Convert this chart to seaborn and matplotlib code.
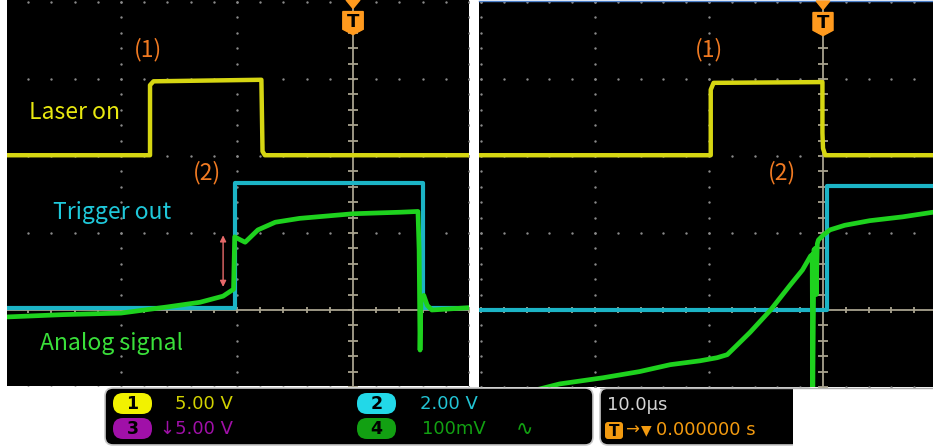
import matplotlib
matplotlib.use("Agg")
import numpy as np
import matplotlib.pyplot as plt
from matplotlib.patches import FancyBboxPatch, Polygon, Rectangle
import seaborn as sns

# --- style ---
sns.set_theme(style="white")
plt.rcParams['font.family'] = ['DejaVu Sans']

# --- data (in scope divisions, trigger at t=0, centre line at v=0) ---
# left capture
laser_t_left = [-2.98, -1.75, -1.75, -1.72, -0.79, -0.78, -0.76, 1.0]
laser_v_left = [2.01, 2.01, 2.92, 2.97, 2.99, 2.06, 2.01, 2.01]
trig_t_left = [-2.98, -1.02, -1.02, 0.60, 0.60, 1.0]
trig_v_left = [0.03, 0.03, 1.65, 1.65, 0.03, 0.03]
analog_t_left = [-2.98, -2.5, -2.0, -1.6, -1.32, -1.12, -1.03, -1.02, -0.97, -0.93,
                 -0.82, -0.67, -0.46, 0.0, 0.41, 0.56, 0.57, 0.578, 0.586, 0.61,
                 0.64, 0.68, 1.0]
analog_v_left = [-0.09, -0.06, -0.04, 0.04, 0.10, 0.18, 0.27, 0.95, 0.91, 0.88,
                 1.04, 1.14, 1.19, 1.25, 1.27, 1.28, 0.78, -0.52, 0.13, 0.19,
                 0.06, 0.0, 0.03]

# right capture
laser_t_right = [-3.02, -0.985, -0.985, -0.96, -0.005, -0.005, 0.0, 0.02, 0.965]
laser_v_right = [2.01, 2.01, 2.86, 2.95, 2.96, 2.30, 2.10, 2.01, 2.01]
trig_t_right = [-3.02, 0.035, 0.035, 0.965]
trig_v_right = [0.0, 0.0, 1.61, 1.61]
analog_t_right = [-2.55, -2.31, -1.93, -1.61, -1.34, -1.08, -0.93, -0.84, -0.75, -0.64,
                  -0.46, -0.29, -0.18, -0.11, -0.095, -0.09, -0.08, -0.07, -0.06, -0.05,
                  -0.04, 0.0, 0.06, 0.19, 0.41, 0.70, 0.965]
analog_v_right = [-1.05, -0.96, -0.88, -0.80, -0.71, -0.66, -0.62, -0.58, -0.45, -0.29,
                  0.0, 0.32, 0.52, 0.70, 0.72, -1.1, 0.78, 0.80, 0.2, 0.86,
                  0.91, 0.97, 1.04, 1.10, 1.16, 1.21, 1.27]

# status bar texts
ch_numbers = ['1', '3', '2', '4']
ch_scales = ['5.00 V', '\u21935.00 V', '2.00 V', '100mV']
timebase = '10.0\u00b5s'
trig_delay = '0.000000 s'

# --- colours ---
YEL, YEL_TXT = '#d6d612', '#e8e810'
CYA, CYA_TXT = '#1cb4c6', '#1fc8da'
GRN, GRN_TXT = '#1ed21e', '#3ae03a'
ORG = '#f07a22'
GRID = '#8a8a8a'
XHAIR = '#a8a28e'

W, H = 933, 446
fig = plt.figure(figsize=(W / 100, H / 100), dpi=100)
fig.patch.set_facecolor('white')


def px_axes(x0, y0, x1, y1):
    return fig.add_axes([x0 / W, 1 - y1 / H, (x1 - x0) / W, (y1 - y0) / H])


def draw_panel(ax, xlim, ylim, laser, trig, analog):
    ax.set_facecolor('black')
    ax.set_xlim(*xlim)
    ax.set_ylim(*ylim)
    ax.set_xticks([])
    ax.set_yticks([])
    for s in ax.spines.values():
        s.set_visible(False)

    # dotted graticule
    for gx in range(-3, 2):
        if gx == 0:
            continue
        ys = np.arange(-1, 4.01, 0.2)
        ax.scatter(np.full_like(ys, gx), ys, s=3, color=GRID, lw=0, zorder=1)
    for gy in range(-1, 5):
        if gy == 0:
            continue
        xs = np.arange(-3, 1.01, 0.2)
        ax.scatter(xs, np.full_like(xs, gy), s=3, color=GRID, lw=0, zorder=1)

    # centre crosshair with minor ticks
    ax.axvline(0, color=XHAIR, lw=1.3, zorder=1)
    ax.axhline(0, color=XHAIR, lw=1.3, zorder=1)
    tx = np.arange(-3, 1.01, 0.2)
    ax.scatter(tx, np.zeros_like(tx), marker='|', s=25, color=XHAIR, lw=1.3, zorder=1)
    ty = np.arange(-1, 4.01, 0.2)
    ax.scatter(np.zeros_like(ty), ty, marker='_', s=45, color=XHAIR, lw=1.3, zorder=1)

    # traces
    sns.lineplot(x=laser[0], y=laser[1], sort=False, estimator=None, ax=ax,
                 color=YEL, lw=3.2, zorder=3)
    sns.lineplot(x=trig[0], y=trig[1], sort=False, estimator=None, ax=ax,
                 color=CYA, lw=3.0, zorder=3)
    sns.lineplot(x=analog[0], y=analog[1], sort=False, estimator=None, ax=ax,
                 color=GRN, lw=3.4, zorder=4)

    # trigger marker at top
    top = ylim[1]
    tri = Polygon([(-0.06, top), (0.06, top), (0, top - 0.11)], closed=True,
                  color='#ff9a1e', zorder=6, clip_on=False)
    ax.add_patch(tri)
    badge = Polygon([(-0.088, top - 0.15), (0.088, top - 0.15), (0.088, top - 0.38),
                     (0, top - 0.45), (-0.088, top - 0.38)], closed=True,
                    color='#ff9a1e', zorder=6)
    ax.add_patch(badge)
    ax.text(0, top - 0.285, 'T', color='black', fontsize=13, fontweight='bold',
            ha='center', va='center', zorder=7)


# left panel
axL = px_axes(7, 0, 469, 386)
draw_panel(axL, (-2.983, 1.0), (-0.987, 4.026),
           (laser_t_left, laser_v_left), (trig_t_left, trig_v_left),
           (analog_t_left, analog_v_left))
ann_font = ['Noto Sans CJK JP', 'DejaVu Sans']
axL.text(-1.77, 3.38, '(1)', color=ORG, fontsize=16.5, ha='center', va='center', family=ann_font)
axL.text(-1.26, 1.79, '(2)', color=ORG, fontsize=16.5, ha='center', va='center', family=ann_font)
axL.text(-2.79, 2.56, 'Laser on', color=YEL_TXT, fontsize=16.5, ha='left', va='center', family=ann_font)
axL.text(-2.59, 1.27, 'Trigger out', color=CYA_TXT, fontsize=16.5, ha='left', va='center', family=ann_font)
axL.text(-2.70, -0.43, 'Analog signal', color=GRN_TXT, fontsize=16.5, ha='left', va='center', family=ann_font)
axL.annotate('', xy=(-1.12, 0.97), xytext=(-1.12, 0.30),
             arrowprops=dict(arrowstyle='<|-|>', color='#e86a6a', lw=1.0,
                             mutation_scale=9, shrinkA=0, shrinkB=0), zorder=5)

# right panel
axR = px_axes(479, 1, 933, 387)
draw_panel(axR, (-3.018, 0.965), (-1.0, 4.013),
           (laser_t_right, laser_v_right), (trig_t_right, trig_v_right),
           (analog_t_right, analog_v_right))
axR.spines['top'].set_visible(True)
axR.spines['top'].set_color('#4a7ec8')
axR.spines['top'].set_linewidth(1.0)
axR.text(-1.0, 3.38, '(1)', color=ORG, fontsize=16.5, ha='center', va='center', family=ann_font)
axR.text(-0.36, 1.79, '(2)', color=ORG, fontsize=16.5, ha='center', va='center', family=ann_font)

# --- status bar ---
sb = fig.add_axes([0, 0, 1, 1], facecolor='none')
sb.set_xlim(0, W)
sb.set_ylim(H, 0)
sb.axis('off')
sb.add_patch(FancyBboxPatch((105, 388), 488, 57, boxstyle='round,pad=0,rounding_size=8',
                            fc='black', ec='#c8c8c8', lw=1.2))
sb.add_patch(FancyBboxPatch((600, 388), 215, 57, boxstyle='round,pad=0,rounding_size=8',
                            fc='black', ec='#c8c8c8', lw=1.2))
sb.add_patch(Rectangle((793, 388.5), 140, 58, fc='white', ec='none', zorder=3))
sb.plot([600, 933], [387.5, 387.5], color='#b0b0b0', lw=1.0, zorder=4)

badge_pos = [(113, 393), (113, 418), (357, 393), (357, 418)]
badge_col = ['#f2f200', '#a010a8', '#22d8e8', '#12a012']
text_col = ['#d2d200', '#a010a8', '#22c4d4', '#12a012']
text_x = [175, 160, 420, 422]
for num, scale, (bx, by), bc, tc, tx in zip(ch_numbers, ch_scales, badge_pos,
                                             badge_col, text_col, text_x):
    sb.add_patch(FancyBboxPatch((bx, by), 39, 21, boxstyle='round,pad=0,rounding_size=10',
                                fc=bc, ec='none'))
    sb.text(bx + 19.5, by + 11, num, color='black', fontsize=12.5, fontweight='bold',
            ha='center', va='center')
    sb.text(tx, by + 11, scale, color=tc, fontsize=13, ha='left', va='center')
sb.text(516, 429, '\u223f', color='#12a012', fontsize=15, ha='left', va='center')

sb.text(607, 405, timebase, color='#d4d4d4', fontsize=13, ha='left', va='center')
sb.add_patch(FancyBboxPatch((605, 422), 18, 17, boxstyle='round,pad=0,rounding_size=3',
                            fc='#f29a10', ec='none'))
sb.text(614, 431, 'T', color='black', fontsize=11, fontweight='bold', ha='center', va='center')
sb.text(625, 430, '\u2192', color='#f29a10', fontsize=12, ha='left', va='center')
sb.text(641, 430, '\u25bc', color='#f29a10', fontsize=10, ha='left', va='center')
sb.text(656, 430, trig_delay, color='#f29a10', fontsize=13, ha='left', va='center')

fig.savefig('out.png', dpi=100, facecolor='white')
